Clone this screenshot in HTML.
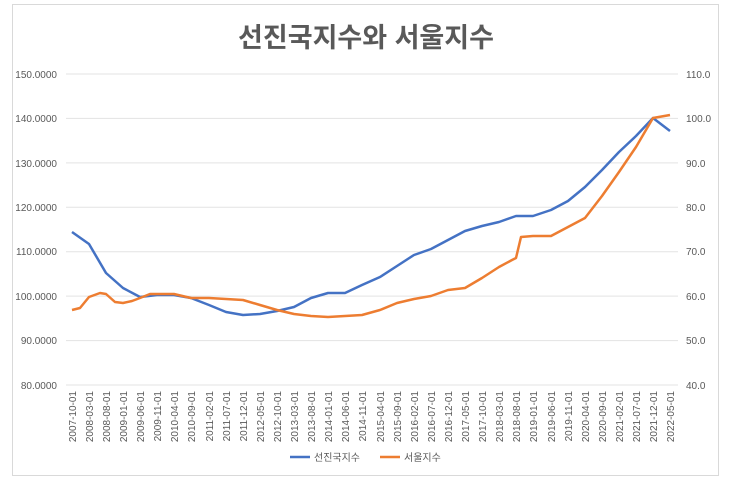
<!DOCTYPE html>
<html><head><meta charset="utf-8"><style>
body{margin:0;background:#fff;}
svg text{font-family:"Liberation Sans","Noto Sans CJK KR",sans-serif;fill:#595959;}
</style></head><body>
<svg width="732" height="485" viewBox="0 0 732 485" xmlns="http://www.w3.org/2000/svg">
<rect x="12.5" y="4.5" width="706" height="471" fill="#fff" stroke="#d9d9d9"/>
<text x="366" y="47" font-size="27" font-weight="bold" text-anchor="middle">선진국지수와 서울지수</text>
<g stroke="#e3e3e3" stroke-width="1">
<line x1="66" x2="678" y1="74" y2="74"/><line x1="66" x2="678" y1="118.4" y2="118.4"/>
<line x1="66" x2="678" y1="162.9" y2="162.9"/><line x1="66" x2="678" y1="207.3" y2="207.3"/>
<line x1="66" x2="678" y1="251.7" y2="251.7"/><line x1="66" x2="678" y1="296.1" y2="296.1"/>
<line x1="66" x2="678" y1="340.6" y2="340.6"/><line x1="66" x2="678" y1="385" y2="385"/>
</g>
<g font-size="10" text-anchor="end">
<text x="57" y="78">150.0000</text><text x="57" y="122">140.0000</text><text x="57" y="167">130.0000</text><text x="57" y="211">120.0000</text><text x="57" y="255">110.0000</text><text x="57" y="300">100.0000</text><text x="57" y="344">90.0000</text><text x="57" y="389">80.0000</text>
</g>
<g font-size="10">
<text x="686" y="78">110.0</text><text x="686" y="122">100.0</text><text x="686" y="167">90.0</text><text x="686" y="211">80.0</text><text x="686" y="255">70.0</text><text x="686" y="300">60.0</text><text x="686" y="344">50.0</text><text x="686" y="389">40.0</text>
</g>
<g font-size="10" id="xl"></g>
<polyline fill="none" stroke="#4472c4" stroke-width="2.5" stroke-linejoin="round" points="72,232 89,244 106,273 123,288 140,297 157,295 174,295 191,298 209,305 226,312 243,315 260,314 277,311 294,307 311,298 328,293 345,293 362,285 380,277 397,266 414,255 431,249 448,240 465,231 482,226 499,222 516,216 533,216 551,210 568,201 585,187 602,170 619,152 636,136 653,118 670,131"/>
<polyline fill="none" stroke="#ed7d31" stroke-width="2.5" stroke-linejoin="round" points="72,310 80,308 89,297 100,293 106,294 115,302 123,303 132,301 140,298 150,294 157,294 174,294 191,298 209,298 226,299 243,300 260,305 277,310 294,314 311,316 328,317 345,316 362,315 380,310 397,303 414,299 431,296 448,290 465,288 482,278 499,267 512,260 516,258 521,237 533,236 551,236 568,227 585,218 602,196 619,172 636,147 653,118 670,115"/>
<line x1="290" x2="310" y1="457" y2="457" stroke="#4472c4" stroke-width="2.5"/>
<text x="314" y="461" font-size="10">선진국지수</text>
<line x1="380" x2="400" y1="457" y2="457" stroke="#ed7d31" stroke-width="2.5"/>
<text x="404" y="461" font-size="10">서울지수</text>
<g font-size="10" text-anchor="end">
<text transform="translate(76,391) rotate(-90)">2007-10-01</text>
<text transform="translate(93,391) rotate(-90)">2008-03-01</text>
<text transform="translate(110,391) rotate(-90)">2008-08-01</text>
<text transform="translate(127,391) rotate(-90)">2009-01-01</text>
<text transform="translate(144,391) rotate(-90)">2009-06-01</text>
<text transform="translate(161,391) rotate(-90)">2009-11-01</text>
<text transform="translate(178,391) rotate(-90)">2010-04-01</text>
<text transform="translate(195,391) rotate(-90)">2010-09-01</text>
<text transform="translate(213,391) rotate(-90)">2011-02-01</text>
<text transform="translate(230,391) rotate(-90)">2011-07-01</text>
<text transform="translate(247,391) rotate(-90)">2011-12-01</text>
<text transform="translate(264,391) rotate(-90)">2012-05-01</text>
<text transform="translate(281,391) rotate(-90)">2012-10-01</text>
<text transform="translate(298,391) rotate(-90)">2013-03-01</text>
<text transform="translate(315,391) rotate(-90)">2013-08-01</text>
<text transform="translate(332,391) rotate(-90)">2014-01-01</text>
<text transform="translate(349,391) rotate(-90)">2014-06-01</text>
<text transform="translate(366,391) rotate(-90)">2014-11-01</text>
<text transform="translate(384,391) rotate(-90)">2015-04-01</text>
<text transform="translate(401,391) rotate(-90)">2015-09-01</text>
<text transform="translate(418,391) rotate(-90)">2016-02-01</text>
<text transform="translate(435,391) rotate(-90)">2016-07-01</text>
<text transform="translate(452,391) rotate(-90)">2016-12-01</text>
<text transform="translate(469,391) rotate(-90)">2017-05-01</text>
<text transform="translate(486,391) rotate(-90)">2017-10-01</text>
<text transform="translate(503,391) rotate(-90)">2018-03-01</text>
<text transform="translate(520,391) rotate(-90)">2018-08-01</text>
<text transform="translate(537,391) rotate(-90)">2019-01-01</text>
<text transform="translate(555,391) rotate(-90)">2019-06-01</text>
<text transform="translate(572,391) rotate(-90)">2019-11-01</text>
<text transform="translate(589,391) rotate(-90)">2020-04-01</text>
<text transform="translate(606,391) rotate(-90)">2020-09-01</text>
<text transform="translate(623,391) rotate(-90)">2021-02-01</text>
<text transform="translate(640,391) rotate(-90)">2021-07-01</text>
<text transform="translate(657,391) rotate(-90)">2021-12-01</text>
<text transform="translate(674,391) rotate(-90)">2022-05-01</text>
</g>
</svg>
</body></html>
